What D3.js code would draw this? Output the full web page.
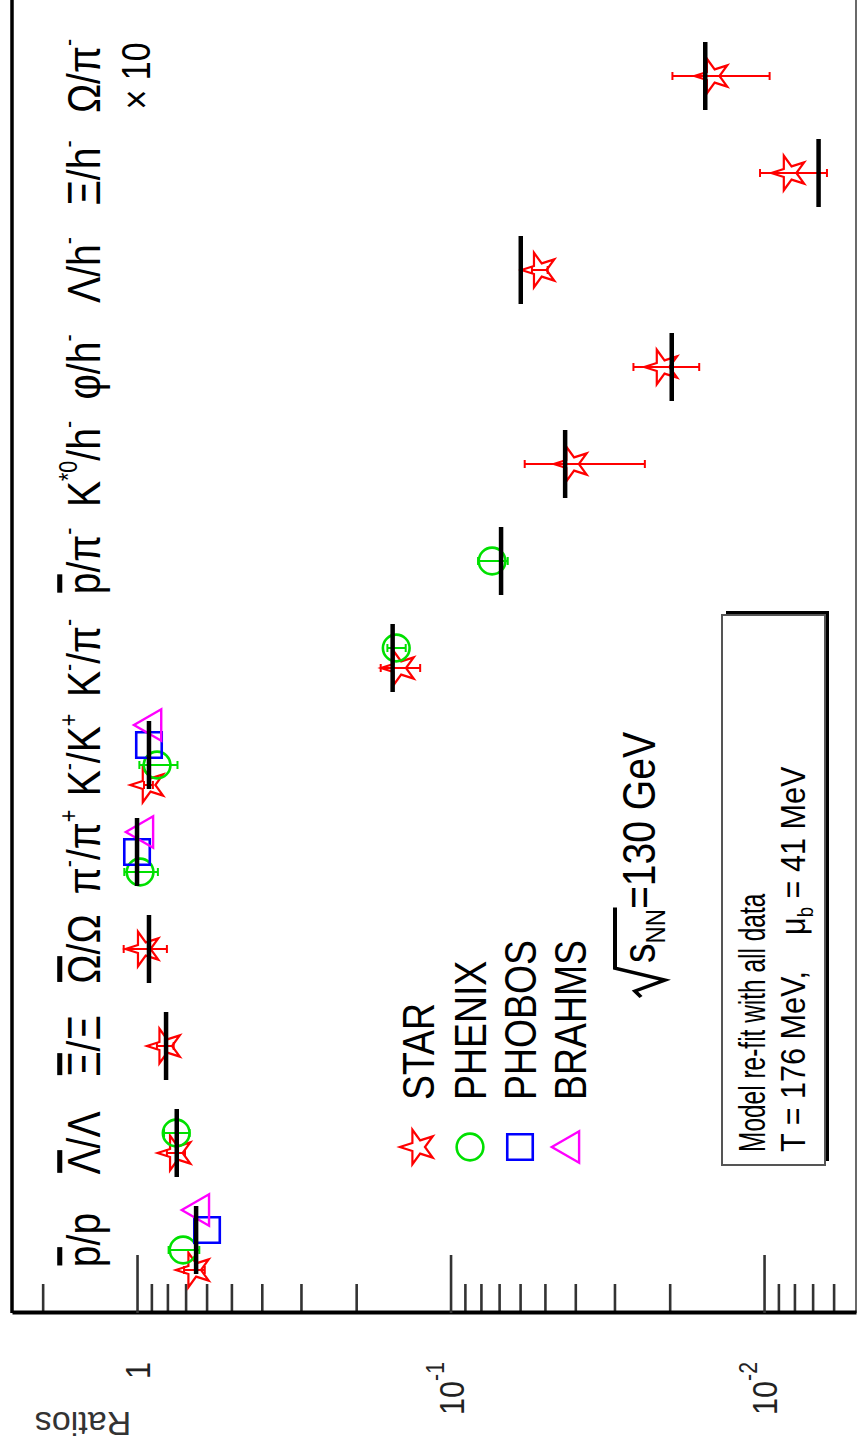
<!DOCTYPE html>
<html><head><meta charset="utf-8">
<script src="https://cdn.jsdelivr.net/npm/d3@7"></script>
<style>body{margin:0;background:#fff}svg{display:block}</style>
</head><body>
<svg id="chart" width="857" height="1450"></svg>
<script>
// ---------------- data ----------------
const categories = ["pbar/p","Lbar/L","Xibar/Xi","Omegabar/Omega","pi-/pi+","K-/K+","K-/pi-","pbar/pi-","K*0/h-","phi/h-","L/h-","Xi/h-","Omega/pi x10"];
const categoryLabels = [
  [{t:"p",over:1},{t:"/p"}],
  [{t:"Λ",over:1},{t:"/Λ"}],
  [{t:"Ξ",over:1},{t:"/Ξ"}],
  [{t:"Ω",over:1},{t:"/Ω"}],
  [{t:"π"},{t:"-",sup:1},{t:"/π"},{t:"+",sup:1}],
  [{t:"K"},{t:"-",sup:1},{t:"/K"},{t:"+",sup:1}],
  [{t:"K"},{t:"-",sup:1},{t:"/π"},{t:"-",sup:1}],
  [{t:"p",over:1},{t:"/π"},{t:"-",sup:1}],
  [{t:"K"},{t:"*0",sup:1},{t:"/h"},{t:"-",sup:1}],
  [{t:"φ"},{t:"/h"},{t:"-",sup:1}],
  [{t:"Λ"},{t:"/h"},{t:"-",sup:1}],
  [{t:"Ξ"},{t:"/h"},{t:"-",sup:1}],
  [{t:"Ω"},{t:"/π"},{t:"-",sup:1}]
];
const categorySecondLine = ["","","","","","","","","","","","","× 10"];

const modelValues  = [0.648, 0.747, 0.808, 0.916, 1.0, 0.916, 0.153, 0.069, 0.0431, 0.0197, 0.0597, 0.0067, 0.0154];

const starValues   = [0.658, 0.753, 0.814, 0.953, null, 0.92, 0.146, null, 0.041, 0.0211, 0.052, 0.0083, 0.0146];
const starErrors   = [0.05, 0.05, 0.05, 0.15, null, 0.03, 0.021, null, 0.017, 0.005, 0.003, 0.002, 0.005];
const phenixValues = [0.713, 0.75, null, null, 0.978, 0.863, 0.149, 0.0737, null, null, null, null, null];
const phenixErrors = [0.08, 0.07, null, null, 0.12, 0.12, 0.01, 0.008, null, null, null, null, null];
const phobosValues = [0.598, null, null, null, 1.0, 0.916, null, null, null, null, null, null, null];
const phobosErrors = [null, null, null, null, null, null, null, null, null, null, null, null, null];
const brahmsValues = [0.63, null, null, null, 0.95, 0.895, null, null, null, null, null, null, null];
const brahmsErrors = [null, null, null, null, null, null, null, null, null, null, null, null, null];

const experimentNames  = ["STAR","PHENIX","PHOBOS","BRAHMS"];
const experimentColors = ["#ff0000","#00e000","#0000ff","#ff00ff"];
const experimentValues = [starValues, phenixValues, phobosValues, brahmsValues];
const experimentErrors = [starErrors, phenixErrors, phobosErrors, brahmsErrors];

const yDomain = [2.505, 0.00509];
const majorTicks = [1, 0.1, 0.01];
const majorTickLabels = [["1",""],["10","-1"],["10","-2"]];
const axisTitle = "Ratios";
const energyText = {s:"s", sub:"NN", rest:"=130 GeV"};
const fitLine1 = "Model re-fit with all data";
const fitLine2a = "T = 176 MeV,";
const fitLine2b = {mu:"μ", sub:"b", rest:" = 41 MeV"};
// ---------------- drawing ----------------
const W = 1450, H = 857, SX = 0.85;
const FONT = "'Liberation Sans', Arial, Helvetica, sans-serif";
const svg = d3.select("#chart");
svg.append("rect").attr("width",857).attr("height",1450).attr("fill","#fff");
const g = svg.append("g").attr("transform",`translate(0,${W}) rotate(-90)`).style("font-family",FONT);

const x = d3.scalePoint().domain(categories).range([210, 1374]);
const y = d3.scaleLog().domain(yDomain).range([12, 856]);
const AX = 137;

// frame
g.append("line").attr("x1",AX).attr("x2",W+4).attr("y1",12).attr("y2",12).attr("stroke","#000").attr("stroke-width",3.5);
g.append("line").attr("x1",AX).attr("x2",W+4).attr("y1",856).attr("y2",856).attr("stroke","#444").attr("stroke-width",1.6);

// axis
const isMajor = v => Math.abs(Math.log10(v) - Math.round(Math.log10(v))) < 1e-6;
const minorTicks = y.ticks().filter(v => !isMajor(v));
const minorAxis = g.append("g").attr("transform",`translate(${AX},0)`)
  .call(d3.axisLeft(y).tickValues(minorTicks).tickSizeInner(-29).tickSizeOuter(0).tickFormat(""));
const majorAxis = g.append("g").attr("transform",`translate(${AX},0)`)
  .call(d3.axisLeft(y).tickValues(majorTicks).tickSizeInner(-58).tickSizeOuter(0).tickFormat(""));
g.selectAll(".tick line").attr("stroke","#333").attr("stroke-width",2.6);
g.selectAll(".domain").attr("stroke","#000").attr("stroke-width",4);
minorAxis.select(".domain").remove();

// major tick labels
majorTicks.forEach((v,i) => {
  const t = g.append("text").attr("transform",`translate(${AX-49},${y(v)}) scale(${SX},1)`)
    .attr("text-anchor","end").attr("dy","0.36em").attr("font-size",36).attr("fill","#222");
  t.append("tspan").text(majorTickLabels[i][0]);
  if (majorTickLabels[i][1]) t.append("tspan").attr("font-size",25).attr("dy",-20).text(majorTickLabels[i][1]);
});

// axis title
g.append("text").attr("transform",`translate(38,83) rotate(-90)`).attr("text-anchor","middle")
  .attr("font-size",34).attr("fill","#333").text(axisTitle);

// rich text helper
function richText(parent, parts, fs, anchor) {
  const t = parent.append("text").attr("text-anchor",anchor).attr("font-size",fs).attr("fill","#000");
  let shift = 0, idx = 0; const overs = [];
  parts.forEach(p => {
    const ts = t.append("tspan").text(p.t);
    let target = 0;
    if (p.sup) { ts.attr("font-size",fs*0.55); target = -fs*0.5; }
    if (p.sub) { ts.attr("font-size",fs*0.6); target = fs*0.25; }
    if (target !== shift) { ts.attr("dy", target - shift); shift = target; }
    if (p.over) overs.push(idx);
    idx += p.t.length;
  });
  const node = t.node();
  overs.forEach(i => {
    const e = node.getExtentOfChar(i);
    parent.append("rect").attr("x",e.x+2).attr("width",e.width-4)
      .attr("y",-fs*0.93).attr("height",fs*0.11).attr("fill","#000");
  });
  return t;
}

// category labels
categories.forEach((c,i) => {
  const lg = g.append("g").attr("transform",`translate(${x(c)},100) scale(${SX},1)`);
  richText(lg, categoryLabels[i], 46, "middle");
  if (categorySecondLine[i]) {
    lg.append("text").attr("y",50).attr("text-anchor","middle").attr("font-size",40).text(categorySecondLine[i]);
  }
});

// symbols
const symbolTypes = [d3.symbolStar, d3.symbolCircle, d3.symbolSquare, d3.symbolTriangle];
const symbolSizes = [370, 560, 650, 430];
const symbolWidths = [2.2, 2.6, 2.6, 2.4];
const sym = k => d3.symbol().type(symbolTypes[k]).size(symbolSizes[k])();

// data points
categories.forEach((c,i) => {
  const present = experimentNames.map((n,k) => k).filter(k => experimentValues[k][i] != null);
  present.forEach((k,j) => {
    const off = (j - (present.length-1)/2) * 20;
    const cx = x(c) + off, v = experimentValues[k][i], e = experimentErrors[k][i];
    const col = experimentColors[k];
    if (e) {
      const y1 = y(v + e), y2 = y(Math.max(v - e, 1e-6));
      g.append("line").attr("x1",cx).attr("x2",cx).attr("y1",y1).attr("y2",y2).attr("stroke",col).attr("stroke-width",2);
      [y1,y2].forEach(yy => g.append("line").attr("x1",cx-4).attr("x2",cx+4).attr("y1",yy).attr("y2",yy).attr("stroke",col).attr("stroke-width",2));
    }
    g.append("path").attr("d",sym(k)).attr("transform",`translate(${cx},${y(v)})`)
      .attr("fill","none").attr("stroke",col).attr("stroke-width",symbolWidths[k]);
  });
});

// model bars
g.selectAll(".model").data(categories).join("line").attr("class","model")
  .attr("x1",c => x(c)-34).attr("x2",c => x(c)+34)
  .attr("y1",(c,i) => y(modelValues[i])).attr("y2",(c,i) => y(modelValues[i]))
  .attr("stroke","#000").attr("stroke-width",4.5);

// legend
const legendRows = [418, 470, 520, 570];
experimentNames.forEach((n,k) => {
  g.append("path").attr("d",sym(k)).attr("transform",`translate(303,${legendRows[k]})`)
    .attr("fill","none").attr("stroke",experimentColors[k]).attr("stroke-width",symbolWidths[k]);
  g.append("text").attr("transform",`translate(350,${legendRows[k]+16}) scale(${SX},1)`)
    .attr("font-size",44).attr("fill","#000").text(n);
});

// energy label
{
  const eg = g.append("g").attr("transform",`translate(487,655) scale(${SX},1)`);
  const t = eg.append("text").attr("font-size",46).attr("fill","#000");
  t.append("tspan").text(energyText.s);
  t.append("tspan").attr("font-size",28).attr("dy",10).text(energyText.sub);
  t.append("tspan").attr("dy",-10).text(energyText.rest);
  const endSub = t.node().getExtentOfChar(2);
  const xr = endSub.x + endSub.width + 2;
  eg.append("path").attr("d",`M-40,-14 L-33,-20 L-20,10 L-6,-40 L${xr},-40`)
    .attr("fill","none").attr("stroke","#000").attr("stroke-width",4).attr("stroke-linejoin","miter");
}

// fit box
{
  const bx = 285, by = 722, bw = 550, bh = 103;
  g.append("rect").attr("x",bx+4).attr("y",by+4).attr("width",bw).attr("height",bh).attr("fill","#000");
  g.append("rect").attr("x",bx).attr("y",by).attr("width",bw).attr("height",bh).attr("fill","#fff").attr("stroke","#555").attr("stroke-width",2);
  g.append("text").attr("transform",`translate(${bx+13},${by+43}) scale(${SX*0.8},1)`).attr("font-size",36).text(fitLine1);
  g.append("text").attr("transform",`translate(${bx+13},${by+83}) scale(${SX},1)`).attr("font-size",36).text(fitLine2a);
  const l2 = g.append("text").attr("transform",`translate(${bx+230},${by+83}) scale(${SX},1)`).attr("font-size",36);
  l2.append("tspan").text(fitLine2b.mu);
  l2.append("tspan").attr("font-size",22).attr("dy",8).text(fitLine2b.sub);
  l2.append("tspan").attr("dy",-8).text(fitLine2b.rest);
}
</script>
</body></html>
